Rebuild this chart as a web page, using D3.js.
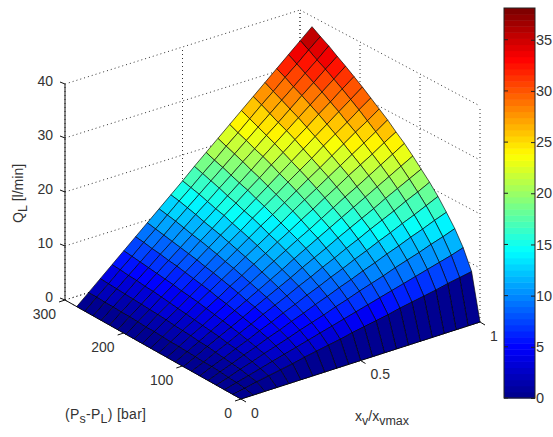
<!DOCTYPE html>
<html lang="en">
<head>
    <meta charset="utf-8">
    <title>QL surface</title>
    <script src="https://d3js.org/d3.v7.js"></script>
    <style>
        body { margin: 0; background: #fff; }
        text { font-family: "Liberation Sans", Arial, sans-serif; font-size: 14px; fill: #333; }
        .grid { fill: none; stroke: #333; stroke-width: 1px; stroke-dasharray: 1 3; }
        .axis { fill: none; stroke: #111; stroke-width: 1px; }
        .cell { stroke: #000; stroke-width: 0.95px; stroke-opacity: 0.68; stroke-linejoin: round; }
    </style>
</head>
<body>
<svg width="553" height="437"></svg>
<script type="text/javascript">
    let xValues = [0, 0.05, 0.1, 0.15, 0.2, 0.25, 0.3, 0.35, 0.4, 0.45, 0.5, 0.55, 0.6, 0.65, 0.7, 0.75, 0.8, 0.85, 0.9, 0.95, 1];
    let pValues = [0, 14, 28, 42, 56, 70, 84, 98, 112, 126, 140, 154, 168, 182, 196, 210, 224, 238, 252, 266, 280];

    // one row per pValues entry, one column per xValues entry (read from the surface)
    let qValues = [
        [0, 0, 0, 0, 0, 0, 0, 0, 0, 0, 0, 0, 0, 0, 0, 0, 0, 0, 0, 0, 0],
        [0, 0.4, 0.9, 1.3, 1.7, 2.1, 2.6, 3.0, 3.4, 3.8, 4.3, 4.7, 5.1, 5.5, 6.0, 6.4, 6.8, 7.2, 7.7, 8.1, 8.5],
        [0, 0.6, 1.2, 1.8, 2.4, 3.0, 3.6, 4.2, 4.8, 5.4, 6.0, 6.6, 7.2, 7.8, 8.4, 9.0, 9.6, 10.2, 10.8, 11.4, 12.1],
        [0, 0.7, 1.5, 2.2, 3.0, 3.7, 4.4, 5.2, 5.9, 6.6, 7.4, 8.1, 8.9, 9.6, 10.3, 11.1, 11.8, 12.5, 13.3, 14.0, 14.8],
        [0, 0.9, 1.7, 2.6, 3.4, 4.3, 5.1, 6.0, 6.8, 7.7, 8.5, 9.4, 10.2, 11.1, 11.9, 12.8, 13.6, 14.5, 15.3, 16.2, 17.0],
        [0, 1.0, 1.9, 2.9, 3.8, 4.8, 5.7, 6.7, 7.6, 8.6, 9.5, 10.5, 11.4, 12.4, 13.3, 14.3, 15.2, 16.2, 17.1, 18.1, 19.1],
        [0, 1.0, 2.1, 3.1, 4.2, 5.2, 6.3, 7.3, 8.3, 9.4, 10.4, 11.5, 12.5, 13.6, 14.6, 15.7, 16.7, 17.7, 18.8, 19.8, 20.9],
        [0, 1.1, 2.3, 3.4, 4.5, 5.6, 6.8, 7.9, 9.0, 10.1, 11.3, 12.4, 13.5, 14.7, 15.8, 16.9, 18.0, 19.2, 20.3, 21.4, 22.5],
        [0, 1.2, 2.4, 3.6, 4.8, 6.0, 7.2, 8.4, 9.6, 10.8, 12.1, 13.3, 14.5, 15.7, 16.9, 18.1, 19.3, 20.5, 21.7, 22.9, 24.1],
        [0, 1.3, 2.6, 3.8, 5.1, 6.4, 7.7, 8.9, 10.2, 11.5, 12.8, 14.1, 15.3, 16.6, 17.9, 19.2, 20.4, 21.7, 23.0, 24.3, 25.6],
        [0, 1.3, 2.7, 4.0, 5.4, 6.7, 8.1, 9.4, 10.8, 12.1, 13.5, 14.8, 16.2, 17.5, 18.9, 20.2, 21.6, 22.9, 24.2, 25.6, 26.9],
        [0, 1.4, 2.8, 4.2, 5.7, 7.1, 8.5, 9.9, 11.3, 12.7, 14.1, 15.5, 17.0, 18.4, 19.8, 21.2, 22.6, 24.0, 25.4, 26.8, 28.3],
        [0, 1.5, 3.0, 4.4, 5.9, 7.4, 8.9, 10.3, 11.8, 13.3, 14.8, 16.2, 17.7, 19.2, 20.7, 22.1, 23.6, 25.1, 26.6, 28.0, 29.5],
        [0, 1.5, 3.1, 4.6, 6.1, 7.7, 9.2, 10.8, 12.3, 13.8, 15.4, 16.9, 18.4, 20.0, 21.5, 23.0, 24.6, 26.1, 27.6, 29.2, 30.7],
        [0, 1.6, 3.2, 4.8, 6.4, 8.0, 9.6, 11.2, 12.8, 14.3, 15.9, 17.5, 19.1, 20.7, 22.3, 23.9, 25.5, 27.1, 28.7, 30.3, 31.9],
        [0, 1.7, 3.3, 5.0, 6.6, 8.3, 9.9, 11.6, 13.2, 14.9, 16.5, 18.2, 19.8, 21.5, 23.1, 24.8, 26.4, 28.1, 29.7, 31.4, 33.0],
        [0, 1.7, 3.4, 5.1, 6.8, 8.5, 10.2, 11.9, 13.6, 15.3, 17.0, 18.7, 20.4, 22.2, 23.9, 25.6, 27.3, 29.0, 30.7, 32.4, 34.1],
        [0, 1.8, 3.5, 5.3, 7.0, 8.8, 10.5, 12.3, 14.1, 15.8, 17.6, 19.3, 21.1, 22.8, 24.6, 26.3, 28.1, 29.9, 31.6, 33.4, 35.1],
        [0, 1.8, 3.6, 5.4, 7.2, 9.0, 10.8, 12.7, 14.5, 16.3, 18.1, 19.9, 21.7, 23.5, 25.3, 27.1, 28.9, 30.7, 32.5, 34.3, 36.2],
        [0, 1.9, 3.7, 5.6, 7.4, 9.3, 11.1, 13.0, 14.9, 16.7, 18.6, 20.4, 22.3, 24.1, 26.0, 27.9, 29.7, 31.6, 33.4, 35.3, 37.1],
        [0, 1.9, 3.8, 5.7, 7.6, 9.5, 11.4, 13.3, 15.2, 17.1, 19.1, 21.0, 22.9, 24.8, 26.7, 28.6, 30.5, 32.4, 34.3, 36.2, 38.1]
    ];

    let xTicks = [0, 0.5, 1];
    let pTicks = [0, 100, 200, 300];
    let zTicks = [0, 10, 20, 30, 40];
    let barTicks = [0, 5, 10, 15, 20, 25, 30, 35];
    let qMax = 38.1;

    let svg = d3.select("svg");

    // The view is a fixed oblique one: each data axis gets its own pixel scales
    let pToX = d3.scaleLinear().domain([0, 300]).range([241, 65]);
    let pToY = d3.scaleLinear().domain([0, 300]).range([399, 300]);
    let xSpanX = d3.scaleLinear().domain([0, 300]).range([239, 235]);
    let xSpanY = d3.scaleLinear().domain([0, 300]).range([-77, -74]);
    let zToY = d3.scaleLinear().domain([0, 40]).range([0, -216]);

    function project(x, p, z) {
        return [pToX(p) + x * xSpanX(p), pToY(p) + x * xSpanY(p) + zToY(z)];
    }

    // 64 level jet colormap
    let jetRamp = d3.scaleLinear()
        .domain([0, 0.125, 0.375, 0.625, 0.875, 1])
        .range(["#000090", "#0000ff", "#00ffff", "#ffff00", "#ff0000", "#800000"]);
    let jet = d3.range(64).map(function (i) {
        return jetRamp(i / 63);
    });
    let color = d3.scaleQuantize().domain([0, qMax]).range(jet);

    let line = d3.line();

    function seg(a, b) {
        return line([a, b]);
    }

    // back walls and floor
    let gridLines = [];
    zTicks.forEach(function (z) {
        gridLines.push([project(0, 300, z), project(1, 300, z)]);
        gridLines.push([project(1, 300, z), project(1, 0, z)]);
    });
    xTicks.forEach(function (x) {
        gridLines.push([project(x, 300, 0), project(x, 300, 40)]);
        gridLines.push([project(x, 0, 0), project(x, 300, 0)]);
    });
    pTicks.forEach(function (p) {
        gridLines.push([project(1, p, 0), project(1, p, 40)]);
        gridLines.push([project(0, p, 0), project(1, p, 0)]);
    });
    svg.append("g").selectAll("path")
        .data(gridLines)
        .join("path")
        .attr("class", "grid")
        .attr("d", function (d) { return seg(d[0], d[1]); });

    // solid axis lines, under the surface
    let axisLines = [
        [project(0, 300, 0), project(0, 300, 40)],
        [project(0, 300, 0), project(0, 0, 0)],
        [project(0, 0, 0), project(1, 0, 0)]
    ];
    svg.append("g").selectAll("path")
        .data(axisLines)
        .join("path")
        .attr("class", "axis")
        .attr("d", function (d) { return seg(d[0], d[1]); });

    // surface cells, far corner first so the nearer ones paint over
    let cells = [];
    for (let j = pValues.length - 2; j >= 0; j--) {
        for (let i = xValues.length - 2; i >= 0; i--) {
            cells.push({ i: i, j: j });
        }
    }
    svg.append("g").selectAll("path")
        .data(cells)
        .join("path")
        .attr("class", "cell")
        .attr("fill", function (d) { return color(qValues[d.j][d.i]); })
        .attr("d", function (d) {
            let i = d.i, j = d.j;
            return line([
                project(xValues[i], pValues[j], qValues[j][i]),
                project(xValues[i + 1], pValues[j], qValues[j][i + 1]),
                project(xValues[i + 1], pValues[j + 1], qValues[j + 1][i + 1]),
                project(xValues[i], pValues[j + 1], qValues[j + 1][i])
            ]) + "Z";
        });

    // tick marks
    let tickMarks = [];
    zTicks.forEach(function (z) {
        let a = project(0, 300, z);
        tickMarks.push([a, [a[0] - 5, a[1] - 2]]);
    });
    pTicks.forEach(function (p) {
        let a = project(0, p, 0);
        tickMarks.push([a, [a[0] - 6, a[1] + 2]]);
    });
    xTicks.forEach(function (x) {
        let a = project(x, 0, 0);
        tickMarks.push([a, [a[0] + 5, a[1] + 3]]);
    });
    svg.append("g").selectAll("path")
        .data(tickMarks)
        .join("path")
        .attr("class", "axis")
        .attr("d", function (d) { return seg(d[0], d[1]); });

    // tick labels
    svg.append("g").selectAll("text")
        .data(zTicks)
        .join("text")
        .attr("text-anchor", "end")
        .attr("x", 53)
        .attr("y", function (d) { return project(0, 300, d)[1] - 3; })
        .attr("dy", "0.35em")
        .text(function (d) { return d; });
    svg.append("g").selectAll("text")
        .data(pTicks)
        .join("text")
        .attr("text-anchor", "end")
        .attr("x", function (d) { return project(0, d, 0)[0] - 9; })
        .attr("y", function (d) { return project(0, d, 0)[1] + 14; })
        .attr("dy", "0.35em")
        .text(function (d) { return d; });
    svg.append("g").selectAll("text")
        .data(xTicks)
        .join("text")
        .attr("x", function (d) { return project(d, 0, 0)[0] + 10; })
        .attr("y", function (d) { return project(d, 0, 0)[1] + 14; })
        .attr("dy", "0.35em")
        .text(function (d) { return d; });

    // axis titles, the subscripts are tspans
    function title(sel, parts) {
        parts.forEach(function (part) {
            sel.append("tspan")
                .attr("dy", part.sub ? 4 : (part.back ? -4 : 0))
                .style("font-size", part.sub ? "12.5px" : null)
                .text(part.t);
        });
    }
    title(svg.append("text").attr("x", 65).attr("y", 419).attr("textLength", 81), [
        { t: "(P" }, { t: "s", sub: true }, { t: "-P", back: true }, { t: "L", sub: true }, { t: ") [bar]", back: true }
    ]);
    title(svg.append("text").attr("x", 355).attr("y", 421), [
        { t: "x" }, { t: "v", sub: true }, { t: "/x", back: true }, { t: "vmax", sub: true }
    ]);
    title(svg.append("text").attr("transform", "translate(23,223) rotate(-90)"), [
        { t: "Q" }, { t: "L", sub: true }, { t: " [l/min]", back: true }
    ]);

    // colorbar
    let barY = d3.scaleLinear().domain([0, qMax]).range([398, 8]);
    let bar = svg.append("g");
    bar.selectAll("rect")
        .data(jet)
        .join("rect")
        .attr("x", 504)
        .attr("width", 31)
        .attr("y", function (d, i) { return barY((i + 1) * qMax / 64); })
        .attr("height", function (d, i) { return barY(i * qMax / 64) - barY((i + 1) * qMax / 64) + 0.5; })
        .attr("fill", function (d) { return d; });
    bar.append("rect")
        .attr("x", 504)
        .attr("y", 8)
        .attr("width", 31)
        .attr("height", 390)
        .attr("fill", "none")
        .attr("stroke", "#222");
    let barAxis = d3.axisRight(barY).tickValues(barTicks).tickSize(-4).tickPadding(5);
    let barG = bar.append("g").attr("transform", "translate(535,0)").call(barAxis);
    barG.select(".domain").remove();
    barG.selectAll(".tick text").attr("x", 1).style("font-size", "14.5px").attr("text-anchor", "start");
    barG.selectAll(".tick line").attr("stroke", "#222");
    bar.selectAll("path.left")
        .data(barTicks)
        .join("path")
        .attr("class", "left")
        .attr("stroke", "#222")
        .attr("d", function (d) { return seg([504, barY(d)], [508, barY(d)]); });
</script>
</body>
</html>
